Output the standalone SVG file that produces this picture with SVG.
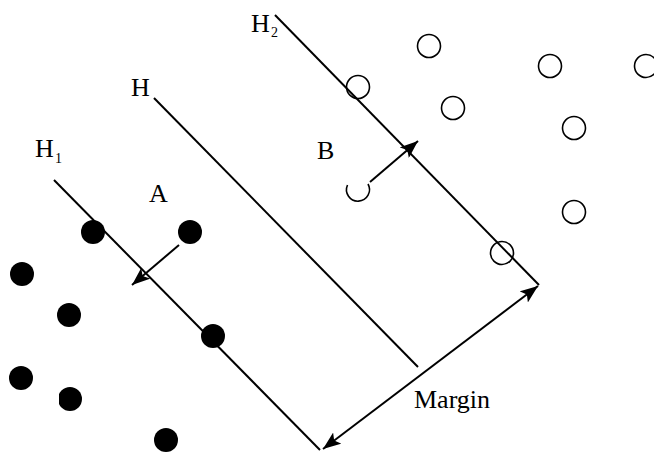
<svg xmlns="http://www.w3.org/2000/svg" width="654" height="452" viewBox="0 0 654 452">
<style>
.ln{stroke:#000;stroke-width:2;fill:none}
.open{fill:none;stroke:#000;stroke-width:1.6}
.dot{fill:#000}
text{font-family:"Liberation Serif","Times New Roman",serif;fill:#000}
.lab{font-size:26px}
.sub{font-size:14px}
</style>
<defs>
<marker id="ah" viewBox="0 0 18 14" refX="18" refY="7" markerWidth="18" markerHeight="14" markerUnits="userSpaceOnUse" orient="auto-start-reverse">
<path d="M0,0 L18,7 L0,14 L4,7 Z" fill="#000"/>
</marker>
<clipPath id="cl"><rect x="59" y="380" width="30" height="40"/></clipPath>
</defs>
<rect width="654" height="452" fill="#fff"/>
<g id="connectors">
<line id="H1" class="ln" x1="54" y1="180" x2="320" y2="450"/>
<line id="H" class="ln" x1="154" y1="98" x2="418" y2="367"/>
<line id="H2" class="ln" x1="275" y1="15" x2="539" y2="285"/>
<line id="arrowA" class="ln" x1="179" y1="245" x2="132" y2="285" marker-end="url(#ah)"/>
<line id="arrowB" class="ln" x1="370" y1="182" x2="418" y2="141" marker-end="url(#ah)"/>
<line id="margin" class="ln" x1="538" y1="286" x2="323" y2="449" marker-start="url(#ah)" marker-end="url(#ah)"/>
</g>
<g id="classA">
<circle class="dot" cx="93" cy="232" r="12"/>
<circle class="dot" cx="190" cy="232" r="12"/>
<circle class="dot" cx="22" cy="274" r="12"/>
<circle class="dot" cx="69" cy="315" r="12"/>
<circle class="dot" cx="213" cy="336" r="12"/>
<circle class="dot" cx="21" cy="378" r="12"/>
<circle class="dot" cx="70" cy="399" r="12" clip-path="url(#cl)"/>
<circle class="dot" cx="166" cy="440" r="12"/>
</g>
<g id="classB">
<circle class="open" cx="429" cy="46" r="11.5"/>
<circle class="open" cx="550" cy="66" r="11.5"/>
<circle class="open" cx="646" cy="66" r="11.5"/>
<circle class="open" cx="358" cy="87" r="11.5"/>
<circle class="open" cx="453" cy="108" r="11.5"/>
<circle class="open" cx="574" cy="128" r="11.5"/>
<circle class="open" cx="574" cy="212" r="11.5"/>
<circle class="open" cx="502" cy="253" r="11.5"/>
<path class="open" d="M347.5 185 A11.5 11.5 0 1 0 368 184"/>
</g>
<g id="labels">
<text class="lab" x="251" y="32">H</text><text class="sub" x="271" y="37">2</text>
<text class="lab" x="131" y="96">H</text>
<text class="lab" x="35" y="157">H</text><text class="sub" x="55" y="163">1</text>
<text class="lab" x="149" y="202">A</text>
<text class="lab" x="317" y="159">B</text>
<text class="lab" x="414" y="408">Margin</text>
</g>
</svg>
